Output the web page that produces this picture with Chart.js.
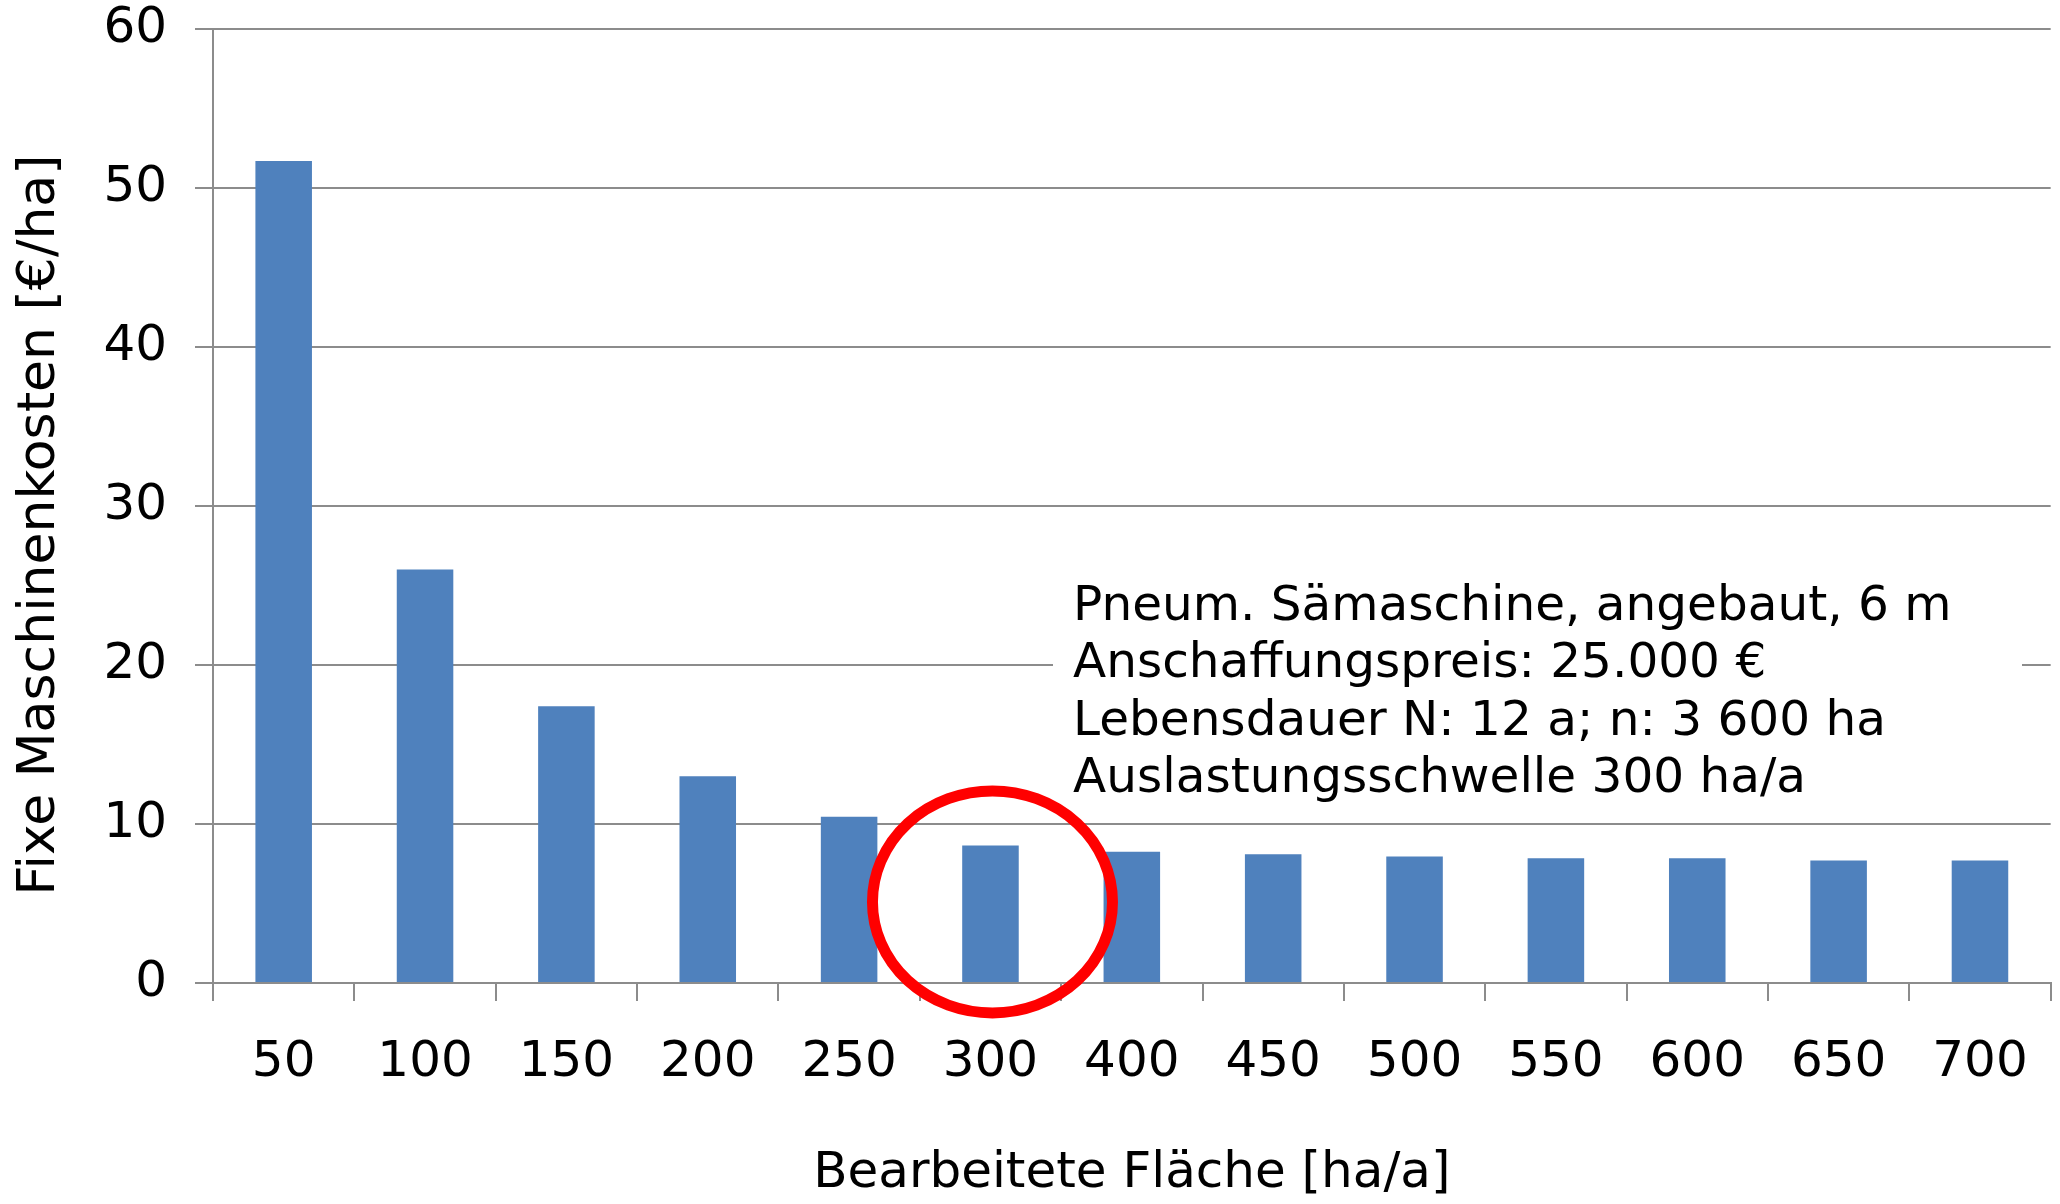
<!DOCTYPE html>
<html lang="de">
<head>
<meta charset="utf-8">
<title>Fixe Maschinenkosten</title>
<script src="https://cdn.jsdelivr.net/npm/chart.js@4.4.1/dist/chart.umd.min.js"></script>
<style>
   html, body { margin: 0; padding: 0; background: #ffffff; }
   #wrap { width: 2060px; height: 1204px; position: relative; }
</style>
</head>
<body>
<div id="wrap"><canvas id="costChart"></canvas></div>
<script>
// Chart data
const areas = ["50", "100", "150", "200", "250", "300", "400", "450", "500", "550", "600", "650", "700"];
const fixedCosts = [51.7, 26.0, 17.4, 13.0, 10.45, 8.65, 8.25, 8.1, 7.95, 7.85, 7.85, 7.7, 7.7];
const yMin = 0;
const yMax = 60;
const yStep = 10;

const yTitle = "Fixe Maschinenkosten [€/ha]";
const xTitle = "Bearbeitete Fläche [ha/a]";
const noteLines = [
   "Pneum. Sämaschine, angebaut, 6 m",
   "Anschaffungspreis: 25.000 €",
   "Lebensdauer N: 12 a; n: 3 600 ha",
   "Auslastungsschwelle 300 ha/a",
];
const highlightArea = "300";

const FONT = "'DejaVu Sans', Verdana, sans-serif";
const GRID = "#8c8c8c";

// Text box, red ellipse and y title drawn by hand
const notePlugin = {
   id: "note",
   afterDatasetsDraw(chart) {
      const ctx = chart.ctx;
      ctx.save();

      // white box behind the text hides the gridline
      ctx.fillStyle = "#ffffff";
      ctx.fillRect(1053, 575, 969, 222);

      ctx.fillStyle = "#000000";
      ctx.font = "48.5px " + FONT;
      ctx.textBaseline = "alphabetic";
      ctx.textAlign = "left";
      noteLines.forEach((line, i) => {
         ctx.fillText(line, 1073, 620 + i * 57.3);
      });

      // circle round the threshold bar
      const cx = chart.scales.x.getPixelForValue(areas.indexOf(highlightArea));
      const cy = chart.scales.y.getPixelForValue(5.1);
      ctx.beginPath();
      ctx.ellipse(cx + 2, cy, 120, 111, 0, 0, Math.PI * 2);
      ctx.lineWidth = 11;
      ctx.strokeStyle = "#ff0000";
      ctx.stroke();

      // y axis title, a bit below the plot centre like the original
      ctx.translate(40, 525);
      ctx.rotate(-Math.PI / 2);
      ctx.font = "52px " + FONT;
      ctx.textAlign = "center";
      ctx.textBaseline = "middle";
      ctx.fillText(yTitle, 0, 0);

      ctx.restore();
   },
};

const ctx = document.getElementById("costChart").getContext("2d");
const costChart = new Chart(ctx, {
   type: "bar",
   data: {
      labels: areas,
      datasets: [
         {
            data: fixedCosts,
            backgroundColor: "#4f81bd",
            borderWidth: 0,
            barPercentage: 0.4,
            categoryPercentage: 1.0,
         },
      ],
   },
   options: {
      responsive: true,
      maintainAspectRatio: false,
      animation: false,
      layout: {
         padding: { left: 0, right: 8, top: 29, bottom: 0 },
      },
      plugins: {
         legend: { display: false },
         tooltip: { enabled: false },
      },
      scales: {
         x: {
            offset: true,
            grid: {
               display: true,
               offset: true,
               drawOnChartArea: false,
               drawTicks: true,
               tickLength: 18,
               color: GRID,
               lineWidth: 2,
            },
            border: { display: true, color: GRID, width: 2 },
            ticks: {
               color: "#000000",
               font: { family: FONT, size: 50 },
               padding: 32,
               maxRotation: 0,
               autoSkip: false,
            },
            title: {
               display: true,
               text: xTitle,
               color: "#000000",
               font: { family: FONT, size: 50 },
               padding: { top: 0, bottom: 0 },
            },
            afterFit(scale) {
               scale.height = 221;
            },
         },
         y: {
            min: yMin,
            max: yMax,
            grid: {
               color: GRID,
               lineWidth: 2,
               tickLength: 18,
            },
            border: { display: true, color: GRID, width: 2 },
            ticks: {
               stepSize: yStep,
               color: "#000000",
               font: { family: FONT, size: 50 },
               padding: 28,
            },
            afterFit(scale) {
               scale.width = 213;
               // let the plot start right at the layout padding
               scale.paddingTop = 0;
               scale.paddingBottom = 0;
            },
         },
      },
   },
   plugins: [notePlugin],
});
</script>
</body>
</html>
